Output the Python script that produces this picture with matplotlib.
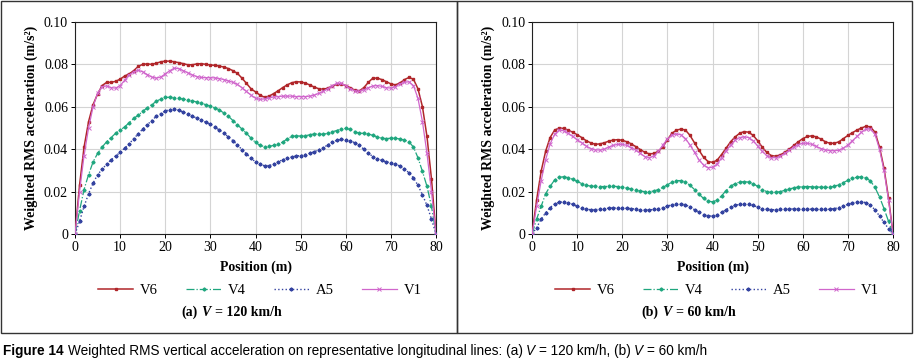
import numpy as np
import matplotlib
matplotlib.use("Agg")
import matplotlib.pyplot as plt
from matplotlib.patches import Rectangle

plt.rcParams["font.family"] = ["Liberation Serif", "DejaVu Serif"]

pos = np.arange(0, 81)

# V = 120 km/h
v6_120 = [0, 0.023, 0.041, 0.053, 0.061, 0.066, 0.070, 0.0715, 0.0715, 0.072,
          0.073, 0.0745, 0.0755, 0.077, 0.079, 0.080, 0.0802, 0.080, 0.0805, 0.0812,
          0.0815, 0.0815, 0.0812, 0.0808, 0.0803, 0.0798, 0.0798, 0.0802, 0.0803, 0.080,
          0.0797, 0.0795, 0.0792, 0.0787, 0.078, 0.077, 0.0757, 0.0735, 0.071, 0.0685,
          0.067, 0.0655, 0.0645, 0.065, 0.0662, 0.0675, 0.069, 0.0703, 0.0713, 0.0718,
          0.0717, 0.0712, 0.0703, 0.0693, 0.0685, 0.0682, 0.0688, 0.0697, 0.0705, 0.0707,
          0.070, 0.069, 0.0678, 0.0675, 0.069, 0.0715, 0.0735, 0.0735, 0.0728, 0.0718,
          0.0708, 0.0703, 0.0712, 0.0728, 0.0738, 0.073, 0.0685, 0.060, 0.046, 0.026, 0]
v4_120 = [0, 0.011, 0.021, 0.028, 0.034, 0.038, 0.041, 0.0435, 0.0455, 0.0475,
          0.049, 0.0505, 0.0525, 0.0545, 0.056, 0.0578, 0.0595, 0.061, 0.0625, 0.0637,
          0.0644, 0.0645, 0.0643, 0.064, 0.0636, 0.0632, 0.0628, 0.0622, 0.0616, 0.061,
          0.0603, 0.0595, 0.0585, 0.057, 0.0555, 0.0535, 0.0515, 0.0495, 0.0475, 0.0452,
          0.0432, 0.0418, 0.0412, 0.0413, 0.0418, 0.0423, 0.0433, 0.0448, 0.046, 0.0463,
          0.0462, 0.0463, 0.0468, 0.0472, 0.0472, 0.047, 0.0475, 0.0482, 0.0488, 0.0495,
          0.0498, 0.0493, 0.0483, 0.0475, 0.0475, 0.0472, 0.0465, 0.0458, 0.0452, 0.045,
          0.0452, 0.0452, 0.0448, 0.0443, 0.0435, 0.041, 0.036, 0.0295, 0.0225, 0.013, 0]
a5_120 = [0, 0.006, 0.013, 0.019, 0.024, 0.028, 0.0305, 0.033, 0.035, 0.0368,
          0.0385, 0.0405, 0.0425, 0.045, 0.0472, 0.0495, 0.0515, 0.0535, 0.0555, 0.0568,
          0.058, 0.0587, 0.0588, 0.0583, 0.0575, 0.0565, 0.0556, 0.0546, 0.0537, 0.0527,
          0.0517, 0.0505, 0.049, 0.0475, 0.0458, 0.044, 0.042, 0.0398, 0.0378, 0.0358,
          0.034, 0.0328, 0.0322, 0.0323, 0.033, 0.034, 0.035, 0.0357, 0.0363, 0.0368,
          0.037, 0.0375, 0.038, 0.0388, 0.0397, 0.0407, 0.042, 0.0432, 0.0442, 0.0446,
          0.0445, 0.044, 0.043, 0.0418, 0.040, 0.0382, 0.0365, 0.0355, 0.0347, 0.034,
          0.0337, 0.033, 0.032, 0.0305, 0.029, 0.0265, 0.023, 0.0185, 0.0135, 0.007, 0]
v1_120 = [0, 0.020, 0.037, 0.050, 0.060, 0.0665, 0.0695, 0.0698, 0.069, 0.0688,
          0.070, 0.0725, 0.075, 0.0765, 0.0772, 0.0765, 0.0752, 0.074, 0.0735, 0.074,
          0.0755, 0.077, 0.0782, 0.078, 0.077, 0.076, 0.075, 0.0742, 0.0738, 0.0737,
          0.0737, 0.0736, 0.0733, 0.0728, 0.0722, 0.0715, 0.0705, 0.069, 0.0672, 0.0655,
          0.064, 0.0635, 0.0637, 0.0642, 0.0646, 0.0648, 0.065, 0.065, 0.065, 0.0648,
          0.0648, 0.0648, 0.065, 0.0655, 0.0663, 0.0672, 0.0685, 0.070, 0.071, 0.071,
          0.070, 0.0685, 0.0675, 0.0672, 0.068, 0.069, 0.0698, 0.070, 0.0696, 0.069,
          0.0688, 0.0695, 0.0708, 0.0715, 0.0718, 0.070, 0.064, 0.053, 0.038, 0.020, 0]

# V = 60 km/h
v6_60 = [0, 0.016, 0.0295, 0.039, 0.0455, 0.049, 0.050, 0.0498, 0.049, 0.048,
         0.0468, 0.0455, 0.044, 0.043, 0.0423, 0.0425, 0.043, 0.0438, 0.0443, 0.0445,
         0.0442, 0.0435, 0.0425, 0.0412, 0.0398, 0.0385, 0.0378, 0.038, 0.039, 0.0412,
         0.0445, 0.0475, 0.049, 0.0495, 0.049, 0.0465, 0.043, 0.0395, 0.0362, 0.0342,
         0.0338, 0.0348, 0.0375, 0.0405, 0.0435, 0.0458, 0.0475, 0.0483, 0.048, 0.0465,
         0.044, 0.041, 0.0385, 0.037, 0.0367, 0.0373, 0.0385, 0.040, 0.0418, 0.0435,
         0.045, 0.046, 0.0463, 0.0458, 0.0448, 0.0435, 0.0428, 0.0428, 0.0435, 0.045,
         0.0465, 0.0478, 0.049, 0.050, 0.0508, 0.0505, 0.048, 0.041, 0.031, 0.017, 0]
v4_60 = [0, 0.007, 0.013, 0.019, 0.0225, 0.0255, 0.0268, 0.027, 0.0266, 0.0258,
         0.0248, 0.0238, 0.023, 0.0226, 0.0225, 0.0224, 0.0224, 0.0225, 0.0225, 0.0224,
         0.0222, 0.0217, 0.0212, 0.0207, 0.0203, 0.020, 0.020, 0.0203, 0.021, 0.022,
         0.0232, 0.0245, 0.0252, 0.0252, 0.0245, 0.023, 0.021, 0.0188, 0.0168, 0.0155,
         0.0152, 0.016, 0.018, 0.0205, 0.0225, 0.0238, 0.0245, 0.0247, 0.0245, 0.0237,
         0.0225, 0.021, 0.020, 0.0196, 0.0197, 0.020, 0.0206, 0.0212, 0.0218, 0.0222,
         0.0224, 0.0224, 0.0223, 0.0222, 0.0221, 0.022, 0.0221, 0.0225, 0.0233, 0.0243,
         0.0253, 0.0262, 0.0268, 0.027, 0.0265, 0.025, 0.022, 0.0175, 0.012, 0.006, 0]
a5_60 = [0, 0.003, 0.007, 0.010, 0.0125, 0.0142, 0.015, 0.0152, 0.0148, 0.014,
         0.013, 0.0122, 0.0117, 0.0115, 0.0115, 0.0117, 0.012, 0.0122, 0.0123, 0.0123,
         0.0122, 0.0121, 0.012, 0.0118, 0.0115, 0.0114, 0.0114, 0.0116, 0.012, 0.0125,
         0.0132, 0.0138, 0.0142, 0.0142, 0.0138, 0.0128, 0.0115, 0.0102, 0.0092, 0.0086,
         0.0085, 0.009, 0.0102, 0.0115, 0.0127, 0.0135, 0.014, 0.0142, 0.014, 0.0135,
         0.0127, 0.012, 0.0117, 0.0115, 0.0115, 0.0116, 0.0117, 0.0118, 0.0119, 0.0119,
         0.0119, 0.0118, 0.0117, 0.0116, 0.0116, 0.0116, 0.0117, 0.012, 0.0125, 0.0132,
         0.014, 0.0147, 0.0152, 0.0153, 0.0148, 0.0135, 0.0115, 0.0085, 0.0055, 0.0025, 0]
v1_60 = [0, 0.013, 0.025, 0.035, 0.0425, 0.047, 0.049, 0.0487, 0.0475, 0.046,
         0.0445, 0.043, 0.0415, 0.0403, 0.0397, 0.0396, 0.040, 0.041, 0.0418, 0.0423,
         0.0423, 0.0418, 0.0408, 0.0395, 0.038, 0.0365, 0.036, 0.0368, 0.039, 0.042,
         0.0448, 0.0467, 0.0472, 0.0468, 0.045, 0.042, 0.0385, 0.035, 0.0325, 0.0313,
         0.0315, 0.033, 0.036, 0.0393, 0.042, 0.0443, 0.0455, 0.0458, 0.0455, 0.044,
         0.0415, 0.039, 0.037, 0.036, 0.036, 0.0367, 0.038, 0.0395, 0.041, 0.0422,
         0.0428, 0.0428, 0.0423, 0.0413, 0.0403, 0.0397, 0.0393, 0.0393, 0.0395, 0.0405,
         0.042, 0.044, 0.046, 0.048, 0.0495, 0.0495, 0.047, 0.040, 0.030, 0.016, 0]

names = ["V6", "V4", "A5", "V1"]
styles = {
    "V6": dict(color="#B0262A", linestyle="-", marker="s", markersize=2.0, linewidth=1.1),
    "V4": dict(color="#1FA67E", linestyle="-.", marker="D", markersize=1.6, linewidth=0.9),
    "A5": dict(color="#3443A0", linestyle=":", marker="P", markersize=2.0, linewidth=1.0),
    "V1": dict(color="#D066CC", linestyle="-", marker="x", markersize=2.4, linewidth=0.9,
               markeredgewidth=0.7),
}
panels = [
    ("(a)", "120", [v6_120, v4_120, a5_120, v1_120]),
    ("(b)", "60", [v6_60, v4_60, a5_60, v1_60]),
]

fig = plt.figure(figsize=(9.15, 3.59), dpi=100)
lefts = [0.082, 0.5815]
sub_x = [0.198, 0.7005]

for (tag, speed, series), left, sx in zip(panels, lefts, sub_x):
    ax = fig.add_axes([left, 0.348, 0.3945, 0.591])
    for name, vals in zip(names, series):
        ax.plot(pos, vals, label=name, zorder=3, **styles[name])
    ax.set_xlim(0, 80)
    ax.set_ylim(0, 0.10)
    ax.set_xticks(np.arange(0, 81, 10))
    ax.set_yticks(np.arange(0, 0.101, 0.02))
    ax.yaxis.set_major_formatter(plt.FuncFormatter(lambda v, _: "0" if v == 0 else f"{v:.2f}"))
    ax.grid(True, color="#D4D4D4", linewidth=0.8)
    ax.set_axisbelow(True)
    ax.tick_params(labelsize=10, length=3, width=0.7, pad=2)
    for s in ax.spines.values():
        s.set_linewidth(0.8)
        s.set_color("#222222")
    ax.set_xlabel("Position (m)", fontsize=10, fontweight="bold", labelpad=5)
    ax.set_ylabel("Weighted RMS acceleration (m/s²)", fontsize=10, fontweight="bold", labelpad=4)
    ax.legend(loc="upper center", bbox_to_anchor=(0.512, -0.205), ncol=4, frameon=False,
              fontsize=10.5, handlelength=2.4, columnspacing=1.95, handletextpad=0.45,
              borderaxespad=0, numpoints=1)
    # subtitle "(x) V = NN km/h" with italic V
    t1 = fig.text(sx, 0.12, tag, fontsize=10, fontweight="bold")
    t2 = plt.annotate("V", xy=(1, 0), xycoords=t1, xytext=(3, 0), textcoords="offset points",
                      fontsize=10, fontweight="bold", style="italic", va="bottom")
    plt.annotate(f"= {speed} km/h", xy=(1, 0), xycoords=t2, xytext=(3, 0),
                 textcoords="offset points", fontsize=10, fontweight="bold", va="bottom")

# panel frames
for x0, w in [(0.0015, 0.4975), (0.499, 0.4975)]:
    fig.add_artist(Rectangle((x0, 0.072), w, 0.925, transform=fig.transFigure,
                             fill=False, edgecolor="#333333", linewidth=1.0))

# caption
cap = ["Liberation Sans Narrow", "Liberation Sans", "DejaVu Sans"]
fs = 9.8
c1 = fig.text(0.003, 0.012, "Figure 14", family=cap, fontsize=fs, fontweight="bold")
c2 = plt.annotate("Weighted RMS vertical acceleration on representative longitudinal lines: (a)",
                  xy=(1, 0), xycoords=c1, xytext=(3, 0), textcoords="offset points",
                  family=cap, fontsize=fs, va="bottom")
c3 = plt.annotate("V", xy=(1, 0), xycoords=c2, xytext=(2.5, 0), textcoords="offset points",
                  family=cap, fontsize=fs, style="italic", va="bottom")
c4 = plt.annotate("= 120 km/h, (b)", xy=(1, 0), xycoords=c3, xytext=(2.5, 0),
                  textcoords="offset points", family=cap, fontsize=fs, va="bottom")
c5 = plt.annotate("V", xy=(1, 0), xycoords=c4, xytext=(2.5, 0), textcoords="offset points",
                  family=cap, fontsize=fs, style="italic", va="bottom")
plt.annotate("= 60 km/h", xy=(1, 0), xycoords=c5, xytext=(2.5, 0), textcoords="offset points",
             family=cap, fontsize=fs, va="bottom")

fig.savefig("out.png", dpi=100)
